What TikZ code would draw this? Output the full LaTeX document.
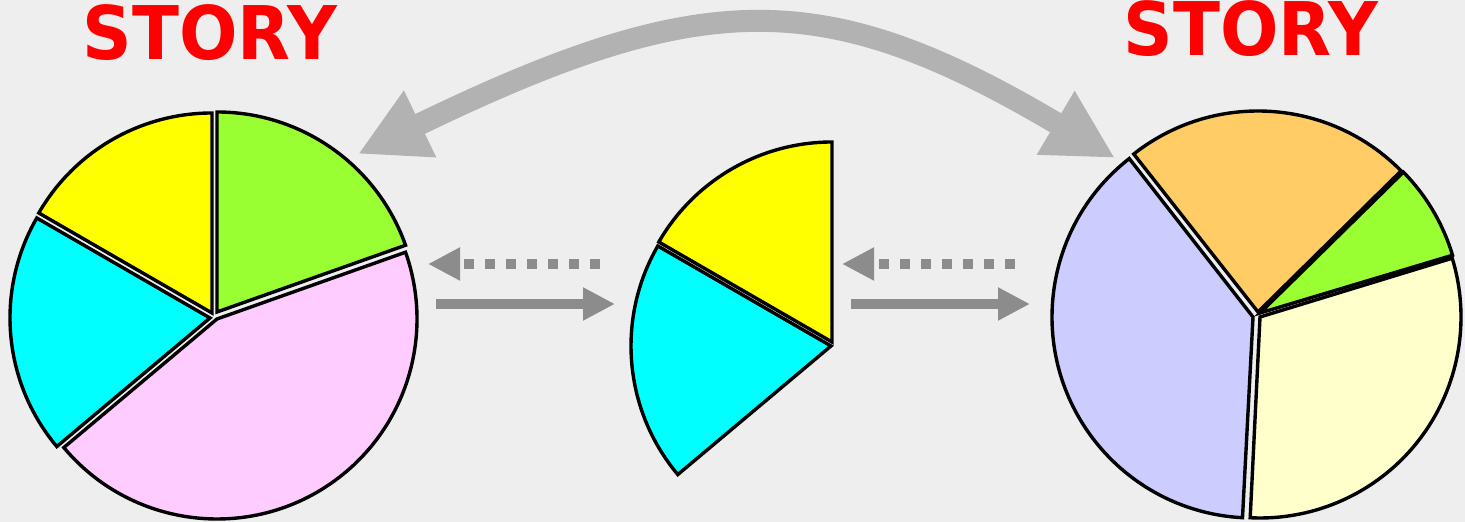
\documentclass[tikz,border=0pt]{standalone}
\usepackage{fontspec}
\setmainfont{DejaVu Sans}
\usepackage{xcolor}
\usetikzlibrary{arrows.meta,calc}
\definecolor{bgray}{HTML}{EEEEEE}
\definecolor{storyred}{HTML}{FF0000}
\definecolor{biggray}{HTML}{B2B2B2}
\definecolor{smallgray}{HTML}{8C8C8C}
\definecolor{pgreen}{HTML}{99FF33}
\definecolor{pyellow}{HTML}{FFFF00}
\definecolor{pcyan}{HTML}{00FFFF}
\definecolor{ppink}{HTML}{FFCCFF}
\definecolor{porange}{HTML}{FFCC66}
\definecolor{plavender}{HTML}{CCCCFF}
\definecolor{pcream}{HTML}{FFFFCC}

\begin{document}
\begin{tikzpicture}[
  x=0.5pt, y=0.5pt,
  story/.style={inner sep=0pt, text=storyred, font=\fontsize{37}{40}\selectfont\bfseries},
  slice/.style={draw=black, line width=1.7pt},
  bigarrow/.style={{Triangle[length=34.5pt,width=34.5pt]}-{Triangle[length=34.5pt,width=34.5pt]}, line width=11pt, draw=biggray},
  goarrow/.style={-{Triangle[length=16pt,width=15.5pt]}, line width=5pt, draw=smallgray},
  backarrow/.style={-{Triangle[length=16pt,width=15.5pt]}, line width=5pt, draw=smallgray, dash pattern=on 5pt off 5.5pt}
]
\fill[bgray] (0,0) rectangle (1465,522);
\useasboundingbox (0,0) rectangle (1465,522);

\node[story] (storyL) at (210,489.5) {\scalebox{0.93}[1]{STORY}};
\node[story] (storyR) at (1251,493.5) {\scalebox{0.93}[1]{STORY}};

\draw[slice, fill=pyellow] (212,209) -- ++(90:200) arc[start angle=90, end angle=150, radius=200] -- cycle;
\draw[slice, fill=pgreen] (217,210) -- ++(19.5:200) arc[start angle=19.5, end angle=90, radius=200] -- cycle;
\draw[slice, fill=pcyan] (210,204) -- ++(150:200) arc[start angle=150, end angle=220, radius=200] -- cycle;
\draw[slice, fill=ppink] (217,203) -- ++(-140:200) arc[start angle=-140, end angle=19.5, radius=200] -- cycle;

\draw[slice, fill=pyellow] (832,180) -- ++(90:200) arc[start angle=90, end angle=150, radius=200] -- cycle;
\draw[slice, fill=pcyan] (831,176) -- ++(150:200) arc[start angle=150, end angle=220, radius=200] -- cycle;

\draw[slice, fill=porange] (1258,210) -- ++(44.6:201) arc[start angle=44.6, end angle=128.2, radius=201] -- cycle;
\draw[slice, fill=pgreen] (1260,209) -- ++(16.7:201) arc[start angle=16.7, end angle=44.5, radius=201] -- cycle;
\draw[slice, fill=pcream] (1260,205) -- ++(-92.8:201) arc[start angle=-92.8, end angle=17, radius=201] -- cycle;
\draw[slice, fill=plavender] (1253,205) -- ++(128:201) arc[start angle=128, end angle=267, radius=201] -- cycle;

\coordinate (tipL) at (358,368);
\coordinate (tipR) at (1115,364);
\draw[bigarrow] (tipL) .. controls (705,536) and (825,536) .. (tipR);

\coordinate (backA) at (600,258);
\coordinate (backB) at (428,258);
\coordinate (goA) at (436,218);
\coordinate (goB) at (615,218);
\coordinate (backC) at (1015,258);
\coordinate (backD) at (842,258);
\coordinate (goC) at (851,218);
\coordinate (goD) at (1030,218);
\draw[backarrow] (backA) -- (backB);
\draw[goarrow] (goA) -- (goB);
\draw[backarrow] (backC) -- (backD);
\draw[goarrow] (goC) -- (goD);
\end{tikzpicture}
\end{document}
